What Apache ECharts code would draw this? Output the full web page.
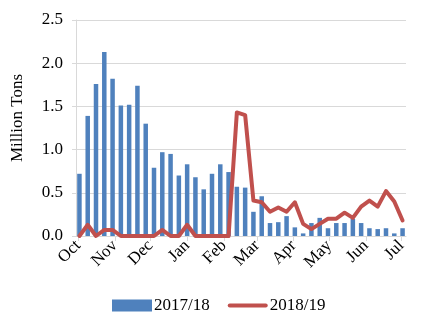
<!DOCTYPE html>
<html>
<head>
<meta charset="utf-8">
<script src="https://cdn.jsdelivr.net/npm/echarts@6/dist/echarts.min.js"></script>
<style>html,body{margin:0;padding:0;background:#fff}#c{width:444px;height:328px}</style>
</head>
<body>
<div id="c"></div>
<script>
var weeks = ['2017-10-02','2017-10-09','2017-10-16','2017-10-23','2017-10-30',
  '2017-11-06','2017-11-13','2017-11-20','2017-11-27',
  '2017-12-04','2017-12-11','2017-12-18','2017-12-25',
  '2018-01-01','2018-01-08','2018-01-15','2018-01-22','2018-01-29',
  '2018-02-05','2018-02-12','2018-02-19','2018-02-26',
  '2018-03-05','2018-03-12','2018-03-19','2018-03-26',
  '2018-04-02','2018-04-09','2018-04-16','2018-04-23','2018-04-30',
  '2018-05-07','2018-05-14','2018-05-21','2018-05-28',
  '2018-06-04','2018-06-11','2018-06-18','2018-06-25',
  '2018-07-02'];
var s2017_18 = [0.72,1.39,1.76,2.13,1.82,1.51,1.52,1.74,1.30,0.79,0.97,0.95,0.70,0.83,0.68,0.54,0.72,0.83,0.74,0.57,
  0.56,0.28,0.46,0.15,0.16,0.23,0.10,0.03,0.15,0.21,0.09,0.15,0.15,0.20,0.15,0.09,0.08,0.09,0.03,0.09];
var s2018_19 = [0,0.13,0,0.07,0.07,0,0,0,0,0,0.07,0,0,0.13,0,0,0,0,0,1.43,
  1.40,0.41,0.39,0.28,0.33,0.28,0.39,0.14,0.08,0.14,0.20,0.20,0.27,0.21,0.34,0.41,0.34,0.52,0.40,0.18];
var monthLabels = ['Jan','Feb','Mar','Apr','May','Jun','Jul','Aug','Sep','Oct','Nov','Dec'];
var seriesNames = ['2017/18','2018/19'];
var yTicks = {min:0, max:2.5, interval:0.5};

var font = 'Liberation Serif, Times New Roman, serif';
var chart = echarts.init(document.getElementById('c'), null, {renderer:'canvas'});
chart.setOption({
  animation:false,
  textStyle:{fontFamily:font},
  grid:{left:76, right:38, top:20, bottom:92, containLabel:false},
  legend:{
    left:107, top:292, itemWidth:40, itemHeight:12, itemGap:18, padding:[5,5,5,5],
    textStyle:{fontFamily:font, fontSize:17, color:'#000', padding:[0,0,0,-3]},
    data:[
      {name:seriesNames[0], icon:'rect'},
      {name:seriesNames[1], icon:'path://M2,0 L38,0 A2,2 0 0 1 38,4 L2,4 A2,2 0 0 1 2,0 Z'}
    ]
  },
  xAxis:{
    type:'time',
    min:'2017-10-01', max:'2018-07-03',
    minInterval:28*86400000, maxInterval:31*86400000,
    axisLine:{show:true, lineStyle:{color:'#D9D9D9', width:1}},
    axisTick:{show:true, length:5, lineStyle:{color:'#D9D9D9'}},
    splitLine:{show:false},
    minorTick:{show:false},
    axisLabel:{
      rotate:45, fontFamily:font, fontSize:17, color:'#000', margin:7,
      hideOverlap:false,
      formatter:function(v){ return monthLabels[new Date(v).getMonth()]; }
    }
  },
  yAxis:{
    type:'value', min:yTicks.min, max:yTicks.max, interval:yTicks.interval,
    name:'Million Tons', nameLocation:'middle', nameGap:50, nameRotate:90,
    nameTextStyle:{fontFamily:font, fontSize:17, color:'#000', padding:[0,0,0,20]},
    axisLine:{show:true, lineStyle:{color:'#D9D9D9'}},
    axisTick:{show:true, length:4, lineStyle:{color:'#D9D9D9'}},
    splitLine:{show:true, lineStyle:{color:'#D9D9D9', width:1}},
    axisLabel:{fontFamily:font, fontSize:17, color:'#000', margin:13,
      formatter:function(v){ return v.toFixed(1); }}
  },
  series:[
    {name:seriesNames[0], type:'bar', barWidth:4.5, clip:false,
     itemStyle:{color:'#4F81BD'},
     data:weeks.map(function(d,i){return [d, s2017_18[i]];})},
    {name:seriesNames[1], type:'line', symbol:'none', clip:false,
     lineStyle:{color:'#C0504D', width:4, cap:'round', join:'round'},
     itemStyle:{color:'#C0504D'},
     data:weeks.map(function(d,i){return [d, s2018_19[i]];})}
  ]
});
</script>
</body>
</html>
